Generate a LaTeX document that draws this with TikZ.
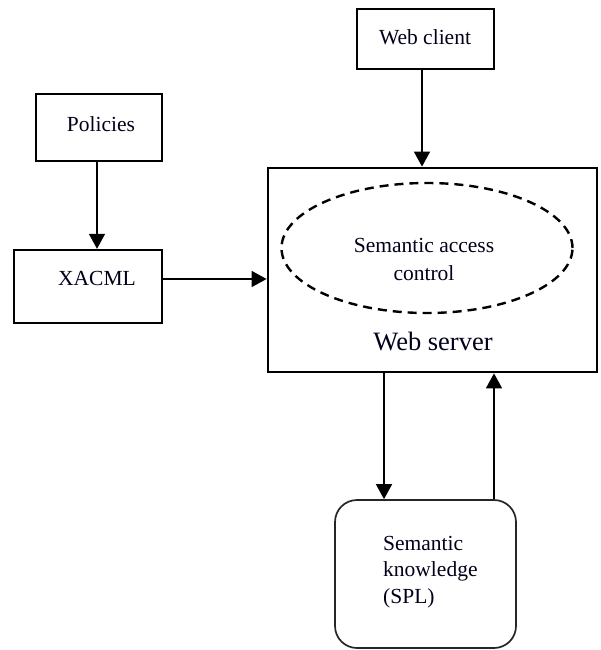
\documentclass[tikz,border=0pt]{standalone}
\usepackage{fontspec}
\setmainfont{Liberation Serif}
\usetikzlibrary{arrows.meta,shapes.geometric,positioning}
\begin{document}
\begin{tikzpicture}[x=1pt,y=-1pt,
  boxnode/.style={draw=black,line width=2.4pt,rectangle,inner sep=0pt},
  txt/.style={font=\fontsize{21.5}{28}\selectfont,inner sep=0pt,text=black!90!blue},
  arr/.style={line width=1.6pt,-{Triangle[length=15pt,width=16pt]}}]
  \useasboundingbox (0,0) rectangle (600,650);

  % boxes
  \node[boxnode,minimum width=126pt,minimum height=67pt] (pol) at (99,127.5) {};
  \node[txt] (poltxt) at (101,124) {Policies};

  \node[boxnode,minimum width=148pt,minimum height=73pt] (xacml) at (88,286.5) {};
  \node[txt] (xacmltxt) at (97,278) {XACML};

  \node[boxnode,minimum width=137pt,minimum height=60pt] (wc) at (425.5,39) {};
  \node[txt] (wctxt) at (425,37) {Web client};

  \node[boxnode,line width=2.8pt,minimum width=329pt,minimum height=204pt] (ws) at (432.5,270) {};
  \node[draw=black,line width=2.4pt,dash pattern=on 9pt off 6pt,ellipse,
        minimum width=291pt,minimum height=130pt,inner sep=0pt] (sac) at (427,248) {};
  \node[txt,align=center] (sactxt) at (424,259) {Semantic access\\control};
  \node[txt,font=\fontsize{26.5}{32}\selectfont] (wstxt) at (433,342) {Web server};

  \node[draw=black!85,line width=1.7pt,rounded corners=22pt,minimum width=181pt,
        minimum height=148pt,inner sep=0pt] (spl) at (425.5,574) {};
  \node[txt,align=left,anchor=west,font=\fontsize{21.5}{26.5}\selectfont] (spltxt) at (383,572)
    {Semantic\\knowledge\\(SPL)};

  % connectors
  \draw[arr] ([xshift=-2pt]pol.south) -- ([xshift=-2pt]pol.south |- xacml.north);
  \draw[arr] ([yshift=7.5pt]xacml.east) -- ([yshift=7.5pt]xacml.east -| ws.west);
  \draw[arr] ([xshift=-3.5pt]wc.south) -- ([xshift=-3.5pt]wc.south |- ws.north);
  \draw[arr] ([xshift=-41.5pt]spl.north |- ws.south) -- ([xshift=-41.5pt]spl.north);
  \draw[arr] ([xshift=68.5pt]spl.north) -- ([xshift=68.5pt]spl.north |- ws.south);
\end{tikzpicture}
\end{document}
